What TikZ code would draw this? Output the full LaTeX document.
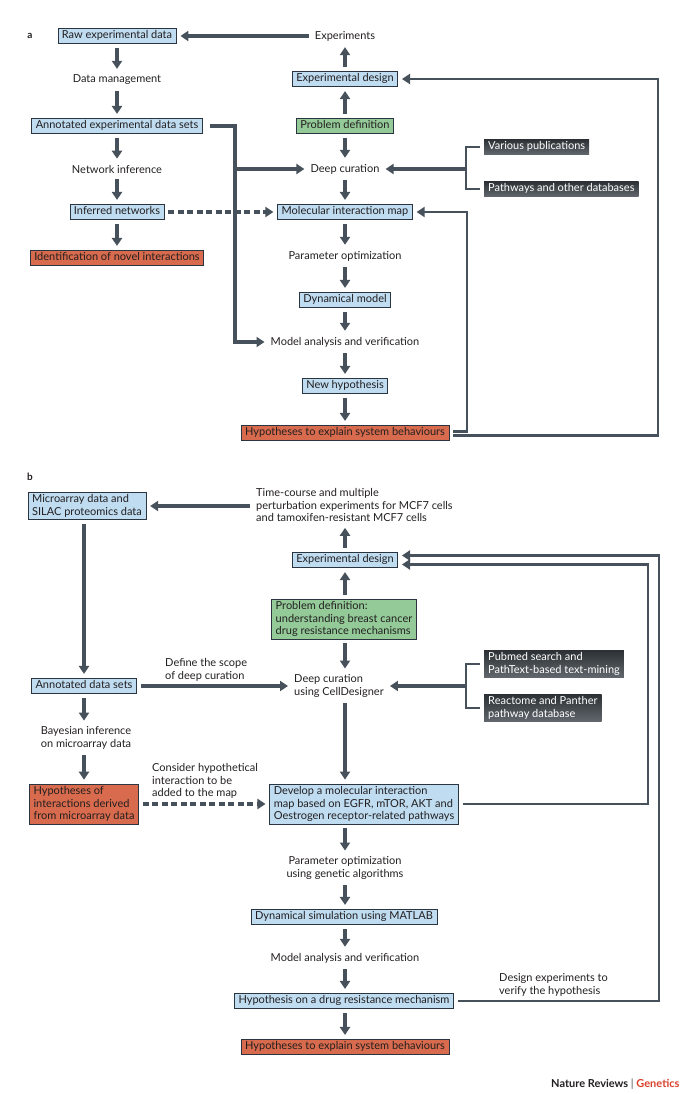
\documentclass[tikz,border=0pt]{standalone}
\usepackage{fontspec}
\setmainfont{Lato}
\usepackage{tikz}
\usetikzlibrary{positioning,arrows.meta}

\definecolor{arrowgray}{HTML}{47515B}
\definecolor{edgegray}{HTML}{2B3540}
\definecolor{inkgray}{HTML}{231F20}
\definecolor{boxblue}{HTML}{BFDCF1}
\definecolor{boxgreen}{HTML}{93CA98}
\definecolor{boxred}{HTML}{D86B4D}
\definecolor{darktop}{HTML}{2C3034}
\definecolor{darkbot}{HTML}{62686E}
\definecolor{natred}{HTML}{D9402B}

\tikzset{
  every node/.style={font=\fontsize{11}{12.5}\selectfont, text=inkgray},
  bluebox/.style={draw=edgegray, line width=0.6pt, fill=boxblue, inner xsep=4pt, inner ysep=2.5pt},
  greenbox/.style={bluebox, fill=boxgreen},
  redbox/.style={bluebox, fill=boxred},
  darkbox/.style={draw=none, top color=darktop, bottom color=darkbot, text=white, inner xsep=4pt, inner ysep=2.5pt},
  oneline/.style={text height=8pt, text depth=2.5pt},
  plain/.style={inner sep=2pt},
  panel/.style={font=\fontsize{10}{11}\selectfont\bfseries},
  arr/.style={draw=arrowgray, line width=3.1pt, -{Triangle[length=8pt,width=10pt]}, shorten <=4pt, shorten >=4pt},
  link/.style={draw=arrowgray, line width=2.6pt, shorten <=4pt, shorten >=4pt},
  loopline/.style={arr, line width=2.3pt},
  dashlink/.style={arr, dash pattern=on 6pt off 3.5pt}
}

\begin{document}
\begin{tikzpicture}[x=1pt,y=-1pt]
\useasboundingbox (0,0) rectangle (685,1094);

% ---------------- panel a
\node[panel] at (30,36)(lbla){a};
\node[bluebox,oneline] at (117,36)(raw){Raw experimental data};
\node[plain] at (345,36)(exps){Experiments};
\node[plain] at (117,80)(dm){Data management};
\node[bluebox,oneline] at (117,126)(ann){Annotated experimental data sets};
\node[plain] at (117,169)(ninf){Network inference};
\node[bluebox,oneline] at (117,212)(inf){Inferred networks};
\node[redbox,oneline] at (117,258)(novel){Identification of novel interactions};

\node[bluebox,oneline] at (345,79)(exd){Experimental design};
\node[greenbox,oneline] at (345,126)(prob){Problem definition};
\node[plain] at (345,169)(deep){Deep curation};
\node[bluebox,oneline] at (345,212)(mim){Molecular interaction map};
\node[plain] at (345,256)(popt){Parameter optimization};
\node[bluebox,oneline] at (345,300)(dyn){Dynamical model};
\node[plain] at (345,342)(mav){Model analysis and verification};
\node[bluebox,oneline] at (345,386)(newh){New hypothesis};
\node[redbox,oneline] at (345,433)(hyp){Hypotheses to explain system behaviours};

\node[darkbox,oneline,anchor=west] at (484,147)(pub){Various publications};
\node[darkbox,oneline,anchor=west] at (484,189)(pwy){Pathways and other databases};

\coordinate (busA) at (235,0);
\coordinate (brA) at (466,0);
\coordinate (loopA) at (467,0);
\coordinate (loopB) at (658,0);
\coordinate (hyphi) at ([yshift=1.5pt]hyp.east);
\coordinate (hyplo) at ([yshift=-2.5pt]hyp.east);

\draw[arr] (exps.west) -- (raw.east);
\draw[arr] (raw) -- (dm);
\draw[arr] (dm) -- (ann);
\draw[arr] (ann) -- (ninf);
\draw[arr] (ninf) -- (inf);
\draw[arr] (inf) -- (novel);
\draw[arr] (prob) -- (exd);
\draw[arr] (exd) -- (exps);
\draw[arr] (prob) -- (deep);
\draw[arr] (deep) -- (mim);
\draw[arr] (mim) -- (popt);
\draw[arr] (popt) -- (dyn);
\draw[arr] (dyn) -- (mav);
\draw[arr] (mav) -- (newh);
\draw[arr] (newh) -- (hyp);

\draw[arr, shorten <=7pt] (ann.east) -| (busA |- mav.west) -- (mav.west);
\draw[arr, shorten <=0pt] (busA |- deep.west) -- (deep.west);
\draw[dashlink] (inf.east) -- (mim.west);

\draw[link] (pub.west) -| (brA |- pwy.west) -- (pwy.west);
\draw[arr, shorten <=0pt] (brA |- deep.east) -- (deep.east);

\draw[loopline] (hyphi) -| (loopA |- mim.east) -- (mim.east);
\draw[loopline] (hyplo) -| (loopB |- exd.east) -- (exd.east);

% ---------------- panel b
\node[panel] at (30,477)(lblb){b};
\node[bluebox,align=left] at (87,506)(micro){Microarray data and\\SILAC proteomics data};
\node[plain,align=left,anchor=west] at (254,505)(tc){Time-course and multiple\\perturbation experiments for MCF7 cells\\and tamoxifen-resistant MCF7 cells};
\node[bluebox,oneline] at (345,560)(exd2){Experimental design};
\node[greenbox,align=left] at (344,619)(prob2){Problem definition:\\understanding breast cancer\\drug resistance mechanisms};
\node[plain,align=left] at (339,686)(dc2){Deep curation\\using CellDesigner};
\node[darkbox,align=left,anchor=west] at (484,664)(pub2){Pubmed search and\\PathText-based text-mining};
\node[darkbox,align=left,anchor=west] at (484,708)(rea2){Reactome and Panther\\pathway database};
\node[bluebox,oneline] at (84,686)(ann2){Annotated data sets};
\node[plain,align=left,anchor=west] at (163,670)(scope){Define the scope\\of deep curation};
\node[plain,align=center] at (86,738)(bayes){Bayesian inference\\on microarray data};
\node[redbox,align=left] at (84,804)(hypint){Hypotheses of\\interactions derived\\from microarray data};
\node[plain,align=left,anchor=west] at (150,781)(cons){Consider hypothetical\\interaction to be\\added to the map};
\node[bluebox,align=left] at (364,804)(dev){Develop a molecular interaction\\map based on EGFR, mTOR, AKT and\\Oestrogen receptor-related pathways};
\node[plain,align=center] at (345,868)(popt2){Parameter optimization\\using genetic algorithms};
\node[bluebox,oneline] at (344,917)(dyn2){Dynamical simulation using MATLAB};
\node[plain] at (345,958)(mav2){Model analysis and verification};
\node[bluebox,oneline] at (344,1001)(hypd){Hypothesis on a drug resistance mechanism};
\node[plain,align=left,anchor=west] at (497,985)(desg){Design experiments to\\verify the hypothesis};
\node[redbox,oneline] at (345,1047)(hyp2){Hypotheses to explain system behaviours};

\node[anchor=east,font=\fontsize{11}{12}\selectfont\bfseries] at (683,1084)(credit){Nature Reviews \textcolor{gray}{|} \textcolor{natred}{Genetics}};

\coordinate (spine) at (345,0);
\coordinate (brB) at (466,0);
\coordinate (loopC) at (648,0);
\coordinate (loopD) at (659,0);
\coordinate (exd2hi) at ([yshift=4.5pt]exd2.east);
\coordinate (exd2lo) at ([yshift=-4.5pt]exd2.east);

\draw[arr] (micro.east -| tc.west) -- (micro.east);
\draw[arr] (exd2.north) -- (exd2.north |- tc.south);
\draw[arr] (spine |- prob2.north) -- (spine |- exd2.south);
\draw[arr] (spine |- prob2.south) -- (spine |- dc2.north);
\draw[arr] (spine |- dc2.south) -- (spine |- dev.north);
\draw[arr] (spine |- dev.south) -- (spine |- popt2.north);
\draw[arr] (spine |- popt2.south) -- (spine |- dyn2.north);
\draw[arr] (spine |- dyn2.south) -- (spine |- mav2.north);
\draw[arr] (spine |- mav2.south) -- (spine |- hypd.north);
\draw[arr] (spine |- hypd.south) -- (spine |- hyp2.north);

\draw[link] (pub2.west) -| (brB |- rea2.west) -- (rea2.west);
\draw[arr, shorten <=0pt] (brB |- dc2.east) -- (dc2.east);

\draw[arr] (ann2.north |- micro.south) -- (ann2.north);
\draw[arr] (ann2.east) -- (dc2.west);
\draw[arr] (ann2.south) -- (ann2.south |- bayes.north);
\draw[arr] (ann2.south |- bayes.south) -- (hypint.north);
\draw[dashlink] (hypint.east) -- (dev.west);

\draw[loopline] (dev.east) -| (loopC |- exd2lo) -- (exd2lo);
\draw[loopline] (hypd.east) -| (loopD |- exd2hi) -- (exd2hi);
\end{tikzpicture}
\end{document}
